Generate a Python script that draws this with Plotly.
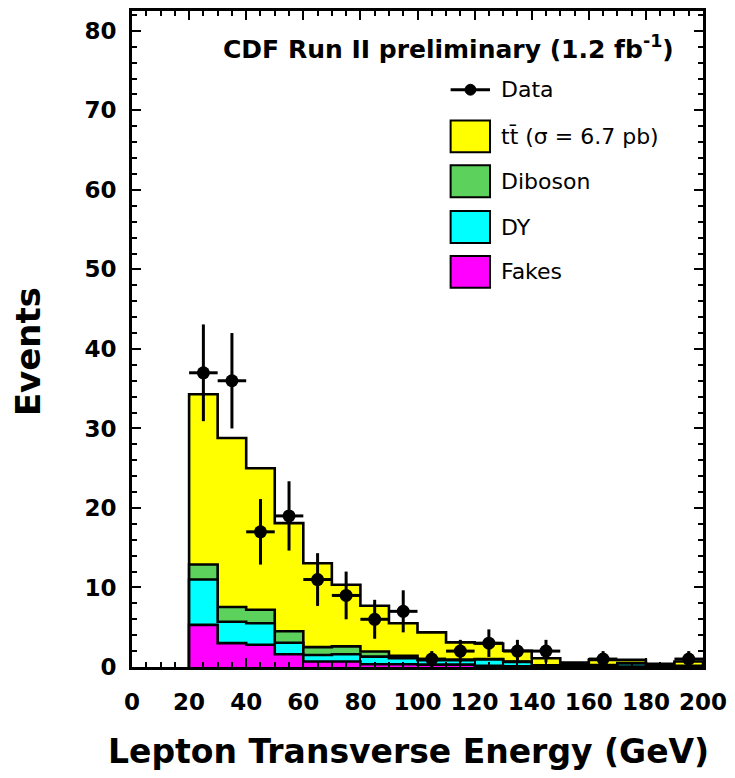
import numpy as np
import plotly.graph_objects as go

# Lepton ET histogram: 10 GeV bins from 20 to 200 GeV
bin_edges = list(range(20, 201, 10))
fakes = [5.3, 3.0, 2.8, 1.6, 0.7, 0.7, 0.35, 0.35, 0.3, 0.3, 0.15, 0.1, 0.05, 0.05, 0.05, 0.05, 0.05, 0.05]
drell_yan = [5.7, 2.7, 2.7, 1.45, 0.8, 0.9, 0.95, 0.75, 0.55, 0.55, 0.8, 0.55, 0.1, 0.1, 0.15, 0.4, 0.05, 0.05]
diboson = [1.9, 1.85, 1.7, 1.45, 1.0, 1.0, 0.65, 0.3, 0.1, 0.1, 0.05, 0.05, 0.05, 0.05, 0.05, 0.05, 0.05, 0.05]
ttbar = [21.4, 21.25, 17.8, 13.6, 10.55, 7.75, 5.75, 4.1, 3.4, 2.15, 1.95, 1.35, 0.9, 0.35, 0.65, 0.4, 0.25, 0.55]
data_counts = [37, 36, 17, 19, 11, 9, 6, 7, 1, 2, 3, 2, 2, 0, 1, 0, 0, 1]

x_ticks = list(range(0, 201, 20))
y_ticks = list(range(0, 81, 10))

FONT = "DejaVu Sans"
edges = np.array(bin_edges, dtype=float)
centers = 0.5 * (edges[:-1] + edges[1:])
half_width = 0.5 * (edges[1] - edges[0])

# cumulative stack, bottom to top: fakes, DY, diboson, ttbar
c_fakes = np.array(fakes)
c_dy = c_fakes + np.array(drell_yan)
c_dib = c_dy + np.array(diboson)
c_tt = c_dib + np.array(ttbar)


def step_xy(levels):
    xs = [edges[0]] + list(edges[:-1]) + [edges[-1], edges[-1]]
    ys = [0.0] + list(levels) + [levels[-1], 0.0]
    return xs, ys


fig = go.Figure()
for levels, color in [(c_tt, "#FFFF00"), (c_dib, "#5CD25C"),
                      (c_dy, "#00FFFF"), (c_fakes, "#FF00FF")]:
    xs, ys = step_xy(levels)
    fig.add_trace(go.Scatter(
        x=xs, y=ys, mode="lines", line=dict(shape="hv", color="black", width=2.6),
        fill="tozeroy", fillcolor=color, showlegend=False, hoverinfo="skip"))

counts = np.array(data_counts, dtype=float)
mask = counts > 0
fig.add_trace(go.Scatter(
    x=centers[mask], y=counts[mask], mode="markers",
    marker=dict(color="black", size=13, symbol="circle"),
    error_y=dict(type="data", array=np.sqrt(counts[mask]), color="black", thickness=3, width=0),
    error_x=dict(type="constant", value=half_width, color="black", thickness=3, width=0),
    showlegend=False))

axis_common = dict(
    showline=True, linecolor="black", linewidth=3, mirror="ticks",
    ticks="inside", tickcolor="black", tickwidth=2,
    showgrid=False, zeroline=False,
    tickfont=dict(family=FONT, size=23, color="black", weight="bold"),
)
fig.update_xaxes(range=[0, 200], tickvals=x_ticks, ticklen=9,
                 minor=dict(dtick=5, ticklen=5, ticks="inside", tickcolor="black", tickwidth=2),
                 ticklabelstandoff=12, **axis_common)
fig.update_yaxes(range=[0, 82.5], tickvals=y_ticks, ticklen=9,
                 minor=dict(dtick=2, ticklen=5, ticks="inside", tickcolor="black", tickwidth=2),
                 ticklabelstandoff=8, **axis_common)

# legend drawn as boxes and labels in the upper right
shapes = []
annotations = []
bx0, bx1 = 0.558, 0.627
tx = 0.643
dcx, dcy = 0.5927, 0.880
shapes.append(dict(type="line", xref="paper", yref="paper", x0=bx0, x1=bx1, y0=dcy, y1=dcy,
                   line=dict(color="black", width=3)))
shapes.append(dict(type="circle", xref="paper", yref="paper",
                   x0=dcx - 0.0095, x1=dcx + 0.0095, y0=dcy - 0.0083, y1=dcy + 0.0083,
                   fillcolor="black", line=dict(color="black", width=1)))
annotations.append(dict(xref="paper", yref="paper", x=tx, y=dcy, text="Data",
                        xanchor="left", yanchor="middle", showarrow=False,
                        font=dict(family=FONT, size=22, color="black")))
legend_rows = [
    ("#FFFF00", "tt\u0304 (\u03c3 = 6.7 pb)", 0.8088),
    ("#5CD25C", "Diboson", 0.7405),
    ("#00FFFF", "DY", 0.6707),
    ("#FF00FF", "Fakes", 0.6024),
]
for color, label, yc in legend_rows:
    shapes.append(dict(type="rect", xref="paper", yref="paper", x0=bx0, x1=bx1,
                       y0=yc - 0.0243, y1=yc + 0.0243, fillcolor=color,
                       line=dict(color="black", width=2)))
    annotations.append(dict(xref="paper", yref="paper", x=tx, y=yc, text=label,
                            xanchor="left", yanchor="middle", showarrow=False,
                            font=dict(family=FONT, size=22, color="black")))

annotations.append(dict(xref="paper", yref="paper", x=0.156, y=0.944,
                        text="CDF Run II preliminary (1.2 fb<sup>-1</sup>)",
                        xanchor="left", yanchor="middle", showarrow=False,
                        font=dict(family=FONT, size=25, color="black", weight="bold")))
annotations.append(dict(xref="paper", yref="paper", x=0, y=0.48, xshift=-104,
                        text="Events", textangle=-90, xanchor="center", yanchor="middle",
                        showarrow=False,
                        font=dict(family=FONT, size=34, color="black", weight="bold")))
annotations.append(dict(xref="paper", yref="paper", x=0.485, y=0, yshift=-84,
                        text="Lepton Transverse Energy (GeV)", xanchor="center", yanchor="middle",
                        showarrow=False,
                        font=dict(family=FONT, size=33, color="black", weight="bold")))

fig.update_layout(
    width=735, height=778,
    margin=dict(l=132, r=26, t=8, b=111),
    paper_bgcolor="white", plot_bgcolor="white",
    shapes=shapes, annotations=annotations, showlegend=False,
)

fig.write_html("out.html")
